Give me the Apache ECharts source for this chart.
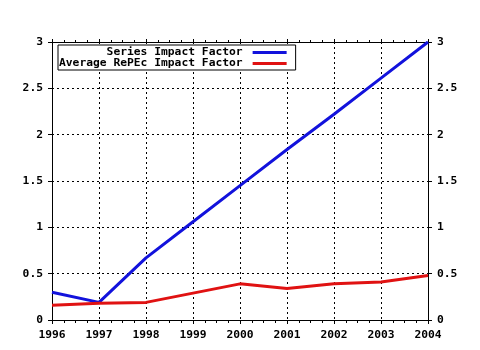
<!DOCTYPE html>
<html><head><meta charset="utf-8">
<script src="https://cdn.jsdelivr.net/npm/echarts@6/dist/echarts.min.js"></script>
<style>html,body{margin:0;padding:0;background:#fff}#c{width:480px;height:350px}</style>
</head><body><div id="c"></div>
<script>
const years = [1996, 1997, 1998, 1999, 2000, 2001, 2002, 2003, 2004];
const seriesImpact = [0.30, 0.19, 0.67, 1.06, 1.45, 1.84, 2.22, 2.61, 3.00];
const avgRepec = [0.16, 0.18, 0.19, 0.29, 0.39, 0.34, 0.39, 0.41, 0.48];
const yTicks = [0, 0.5, 1, 1.5, 2, 2.5, 3];
const seriesNames = ['Series Impact Factor', 'Average RePEc Impact Factor'];

const font = 'DejaVu Sans Mono';
const lbl = {fontFamily: font, fontWeight: 'bold', fontSize: 11.3, color: '#000'};
const fmtY = v => yTicks.includes(v) ? String(v) : '';
const dotted = {color: '#000', type: [2, 3], width: 1};
const yBase = {
  type: 'value', min: 0, max: 3, interval: 0.5,
  axisLine: {show: true, lineStyle: {color: '#000', width: 1}},
  axisTick: {show: true, length: 4, lineStyle: {color: '#000'}},
  axisLabel: Object.assign({formatter: fmtY, margin: 9}, lbl)
};
const chart = echarts.init(document.getElementById('c'), null, {renderer: 'canvas'});
chart.setOption({
  animation: false,
  backgroundColor: '#fff',
  grid: {left: 52, right: 52, top: 42, bottom: 30, containLabel: false},
  legend: {
    orient: 'vertical', left: 58, top: 45, itemGap: 0, padding: [2, 9, 1, 1],
    borderColor: '#000', borderWidth: 1, backgroundColor: '#fff', align: 'right',
    itemWidth: 34, itemHeight: 3, icon: 'rect', selectedMode: false,
    textStyle: Object.assign({width: 184, align: 'right', padding: [0, 5, 0, 0]}, lbl),
    data: seriesNames
  },
  xAxis: [{
    type: 'value', min: years[0], max: years[years.length - 1], interval: 1,
    axisLine: {show: true, onZero: false, lineStyle: {color: '#000'}},
    axisTick: {show: true, length: 4, lineStyle: {color: '#000'}},
    minorTick: {show: true, splitNumber: 4, length: 3, lineStyle: {color: '#000'}},
    splitLine: {show: true, lineStyle: dotted},
    axisLabel: Object.assign({formatter: v => String(v), margin: 10}, lbl)
  }, {
    type: 'value', position: 'top', min: years[0], max: years[years.length - 1], interval: 1,
    axisLine: {show: true, onZero: false, lineStyle: {color: '#000'}},
    axisTick: {show: true, length: 3, lineStyle: {color: '#000'}},
    minorTick: {show: true, splitNumber: 4, length: 2, lineStyle: {color: '#000'}},
    splitLine: {show: false}, axisLabel: {show: false}
  }],
  yAxis: [
    Object.assign({}, yBase, {position: 'left', splitLine: {show: true, lineStyle: dotted}}),
    Object.assign({}, yBase, {position: 'right', splitLine: {show: false}})
  ],
  series: [{
    name: seriesNames[0], type: 'line', showSymbol: false, symbol: 'none',
    data: years.map((y, i) => [y, seriesImpact[i]]),
    lineStyle: {color: '#1212dc', width: 3}, itemStyle: {color: '#1212dc'}, z: 3
  }, {
    name: seriesNames[1], type: 'line', showSymbol: false, symbol: 'none',
    data: years.map((y, i) => [y, avgRepec[i]]),
    lineStyle: {color: '#e01212', width: 3}, itemStyle: {color: '#e01212'}, z: 3
  }]
});
</script></body></html>
